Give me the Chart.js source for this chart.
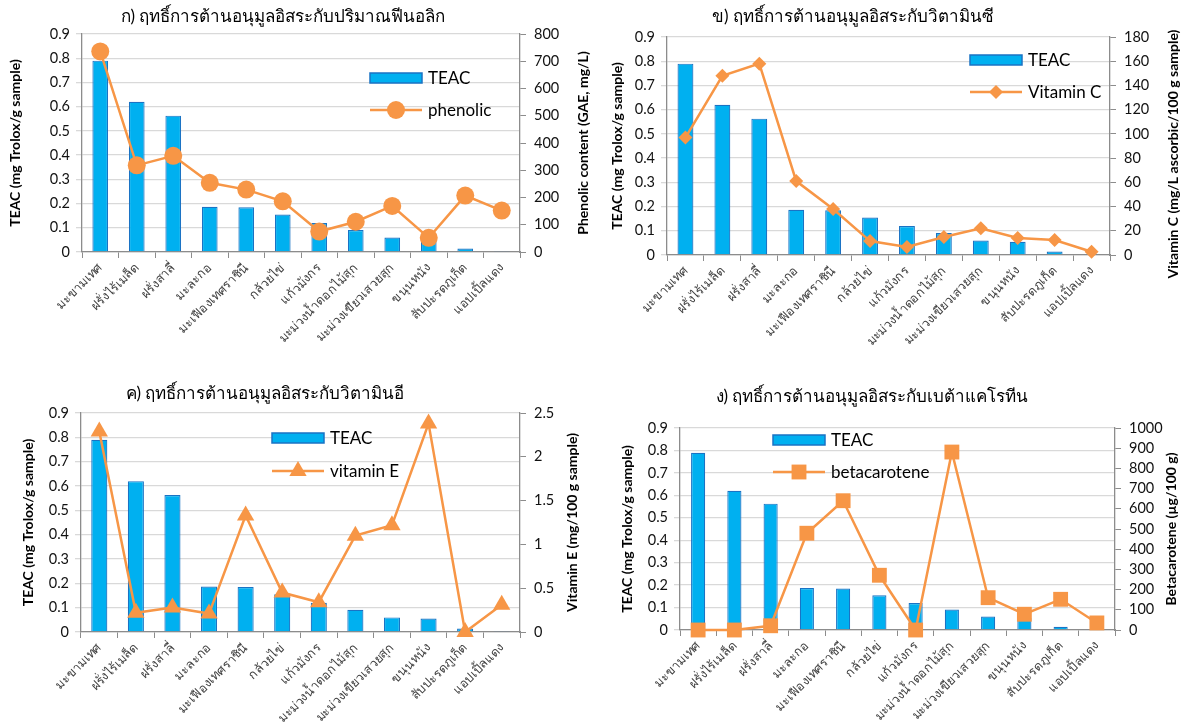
<!DOCTYPE html>
<html lang="th">
<head>
<meta charset="utf-8">
<title>ฤทธิ์การต้านอนุมูลอิสระของผลไม้</title>
<script src="https://cdn.jsdelivr.net/npm/chart.js@4.4.1/dist/chart.umd.min.js"></script>
<style>
  html, body { margin: 0; padding: 0; background: #ffffff; }
  #page { position: relative; width: 1192px; height: 722px; overflow: hidden; background: #ffffff; }
  .panel { position: absolute; }
</style>
</head>
<body>
<div id="page">
  <div class="panel" style="left:0px;top:0px;width:600px;height:361px;"><canvas id="chartPhenolic"></canvas></div>
  <div class="panel" style="left:596px;top:0px;width:596px;height:361px;"><canvas id="chartVitC"></canvas></div>
  <div class="panel" style="left:0px;top:361px;width:600px;height:361px;"><canvas id="chartVitE"></canvas></div>
  <div class="panel" style="left:596px;top:361px;width:596px;height:361px;"><canvas id="chartBeta"></canvas></div>
</div>
<script>
// Fruit samples (shared category axis)
const categories = [
  'มะขามเทศ', 'ฝรั่งไร้เมล็ด', 'ฝรั่งสาลี่', 'มะละกอ', 'มะเฟืองเทศราชินี', 'กล้วยไข่',
  'แก้วมังกร', 'มะม่วงน้ำดอกไม้สุก', 'มะม่วงเขียวเสวยสุก', 'ขนุนหนัง', 'สับปะรดภูเก็ต', 'แอปเปิ้ลแดง'
];

// Antioxidant capacity, mg Trolox / g sample
const teac = [0.79, 0.62, 0.563, 0.187, 0.185, 0.155, 0.12, 0.091, 0.06, 0.055, 0.014, 0.004];

// Phenolic content, GAE mg/L
const phenolic = [736, 318, 353, 254, 229, 186, 75, 111, 169, 52, 207, 152];

// Vitamin C, mg/L ascorbic / 100 g sample
const vitaminC = [97, 148, 158, 61, 38, 11.5, 6.6, 14.8, 22, 14, 12.3, 2.7];

// Vitamin E, mg / 100 g sample
const vitaminE = [2.29, 0.22, 0.28, 0.21, 1.33, 0.45, 0.34, 1.10, 1.22, 2.38, 0, 0.31];

// Beta-carotene, µg / 100 g
const betacarotene = [0, 0, 21, 479, 640, 271, 0, 881, 160, 78, 152, 35];

// Axis ranges
const teacAxis = { max: 0.9, step: 0.1 };
const phenolicAxis = { max: 800, step: 100 };
const vitaminCAxis = { max: 180, step: 20 };
const vitaminEAxis = { max: 2.5, step: 0.5 };
const betaAxis = { max: 1000, step: 100 };

const FONT = "Lato, 'Noto Sans', 'DejaVu Sans', sans-serif";
const BLUE = '#00B0F0';
const BLUE_EDGE = '#1A73C4';
const ORANGE = '#F79646';
const AXIS = '#8C8C8C';
const GRID = '#D9D9D9';

const fmt = v => String(+Number(v).toFixed(2));

// Titles, rotated axis titles and the inset legend for one panel
const panelDecor = {
  id: 'panelDecor',
  afterDraw(chart, args, o) {
    const ctx = chart.ctx;
    const area = chart.chartArea;
    ctx.save();
    ctx.fillStyle = '#000000';
    ctx.textAlign = 'center';
    ctx.textBaseline = 'middle';
    ctx.font = `17px ${FONT}`;
    ctx.fillText(o.title, o.titleX, o.titleY);

    ctx.font = `bold 14px ${FONT}`;
    const midY = (area.top + area.bottom) / 2;
    [o.leftTitle, o.rightTitle].forEach(t => {
      ctx.save();
      ctx.translate(t.x, midY + (t.dy || 0));
      ctx.rotate(-Math.PI / 2);
      ctx.fillText(t.text, 0, 0);
      ctx.restore();
    });

    // legend: bar swatch then line sample with marker
    const lg = o.legend;
    const bar = chart.data.datasets.find(d => d.type === 'bar');
    const line = chart.data.datasets.find(d => d.type === 'line');
    const w = 52;
    ctx.textAlign = 'left';
    ctx.font = `17px ${FONT}`;
    ctx.fillStyle = bar.backgroundColor;
    ctx.fillRect(lg.x, lg.y1 - 5, w, 10);
    ctx.strokeStyle = bar.borderColor;
    ctx.lineWidth = 1.5;
    ctx.strokeRect(lg.x, lg.y1 - 5, w, 10);
    ctx.fillStyle = '#000000';
    ctx.fillText(bar.label, lg.x + w + 6, lg.y1 + 1);

    ctx.strokeStyle = line.borderColor;
    ctx.lineWidth = line.borderWidth;
    ctx.beginPath();
    ctx.moveTo(lg.x, lg.y2);
    ctx.lineTo(lg.x + w, lg.y2);
    ctx.stroke();
    ctx.fillStyle = line.pointBackgroundColor;
    Chart.helpers.drawPoint(ctx, {
      pointStyle: line.pointStyle, radius: line.pointRadius, rotation: 0, borderWidth: 0
    }, lg.x + w / 2, lg.y2);
    ctx.fillStyle = '#000000';
    ctx.fillText(line.label, lg.x + w + 6, lg.y2 + 1);
    ctx.restore();
  }
};

function buildPanel(id, cfg) {
  const canvas = document.getElementById(id);
  const box = canvas.parentElement;
  const W = box.clientWidth, H = box.clientHeight;
  const a = cfg.area;
  return new Chart(canvas, {
    data: {
      labels: categories,
      datasets: [
        {
          type: 'line', label: cfg.lineLabel, data: cfg.lineData, yAxisID: 'y2', order: 0,
          borderColor: ORANGE, backgroundColor: ORANGE, borderWidth: 2.5, tension: 0,
          pointStyle: cfg.pointStyle, pointRadius: cfg.pointRadius, pointHoverRadius: cfg.pointRadius,
          pointBackgroundColor: ORANGE, pointBorderColor: ORANGE, pointBorderWidth: 0, clip: false
        },
        {
          type: 'bar', label: 'TEAC', data: teac, yAxisID: 'y', order: 1,
          backgroundColor: BLUE, borderColor: BLUE_EDGE, borderWidth: 1.2,
          categoryPercentage: 1, barPercentage: cfg.barPct
        }
      ]
    },
    options: {
      responsive: true, maintainAspectRatio: false, animation: false,
      layout: { padding: { left: 0, right: 0, top: a.top, bottom: 0 } },
      plugins: {
        legend: { display: false }, tooltip: { enabled: false }, title: { display: false },
        panelDecor: cfg.decor
      },
      scales: {
        x: {
          type: 'category', offset: true,
          grid: { offset: true, drawOnChartArea: false, tickLength: 6, color: AXIS, tickColor: AXIS },
          border: { color: AXIS, width: 1.3 },
          ticks: { autoSkip: false, minRotation: 45, maxRotation: 45, padding: 2, color: '#404040',
                   font: { family: FONT, size: 12.5 } },
          afterFit(s) { s.height = H - a.bottom; }
        },
        y: {
          position: 'left', min: 0, max: teacAxis.max,
          ticks: { stepSize: teacAxis.step, callback: fmt, padding: 6, color: '#111111', autoSkip: false,
                   font: { family: FONT, size: 14.5 } },
          grid: { color: GRID, tickColor: GRID, tickLength: 6, lineWidth: 1.3 },
          border: { color: AXIS, width: 1.3 },
          afterFit(s) { s.width = a.left; }
        },
        y2: {
          position: 'right', min: 0, max: cfg.rightAxis.max,
          ticks: { stepSize: cfg.rightAxis.step, callback: fmt, padding: 8, color: '#111111', autoSkip: false,
                   font: { family: FONT, size: 14.5 } },
          grid: { drawOnChartArea: false, color: AXIS, tickColor: AXIS, tickLength: 6 },
          border: { color: AXIS, width: 1.3 },
          afterFit(s) { s.width = W - a.right; }
        }
      }
    },
    plugins: [panelDecor]
  });
}

buildPanel('chartPhenolic', {
  lineData: phenolic, lineLabel: 'phenolic', pointStyle: 'circle', pointRadius: 9,
  rightAxis: phenolicAxis, barPct: 0.43,
  area: { left: 82, right: 520, top: 34, bottom: 252 },
  decor: {
    title: 'ก) ฤทธิ์การต้านอนุมูลอิสระกับปริมาณฟีนอลิก', titleX: 283, titleY: 17,
    leftTitle: { text: 'TEAC (mg Trolox/g sample)', x: 15 },
    rightTitle: { text: 'Phenolic content (GAE, mg/L)', x: 583 },
    legend: { x: 370, y1: 78, y2: 110 }
  }
});

buildPanel('chartVitC', {
  lineData: vitaminC, lineLabel: 'Vitamin C', pointStyle: 'rectRot', pointRadius: 7,
  rightAxis: vitaminCAxis, barPct: 0.43,
  area: { left: 71, right: 514, top: 37, bottom: 255 },
  decor: {
    title: 'ข) ฤทธิ์การต้านอนุมูลอิสระกับวิตามินซี', titleX: 257, titleY: 17,
    leftTitle: { text: 'TEAC (mg Trolox/g sample)', x: 21 },
    rightTitle: { text: 'Vitamin C (mg/L ascorbic/100 g sample)', x: 577, dy: 8 },
    legend: { x: 374, y1: 60, y2: 92 }
  }
});

buildPanel('chartVitE', {
  lineData: vitaminE, lineLabel: 'vitamin E', pointStyle: 'triangle', pointRadius: 10,
  rightAxis: vitaminEAxis, barPct: 0.44,
  area: { left: 81, right: 520, top: 52, bottom: 271 },
  decor: {
    title: 'ค) ฤทธิ์การต้านอนุมูลอิสระกับวิตามินอี', titleX: 265, titleY: 33,
    leftTitle: { text: 'TEAC (mg Trolox/g sample)', x: 28 },
    rightTitle: { text: 'Vitamin E (mg/100 g sample)', x: 572 },
    legend: { x: 272, y1: 77, y2: 110 }
  }
});

buildPanel('chartBeta', {
  lineData: betacarotene, lineLabel: 'betacarotene', pointStyle: 'rect', pointRadius: 10.5,
  rightAxis: betaAxis, barPct: 0.39,
  area: { left: 84, right: 519, top: 67, bottom: 269 },
  decor: {
    title: 'ง) ฤทธิ์การต้านอนุมูลอิสระกับเบต้าแคโรทีน', titleX: 276, titleY: 36,
    leftTitle: { text: 'TEAC (mg Trolox/g sample)', x: 31 },
    rightTitle: { text: 'Betacarotene (µg/100 g)', x: 575 },
    legend: { x: 177, y1: 79, y2: 111 }
  }
});
</script>
</body>
</html>
